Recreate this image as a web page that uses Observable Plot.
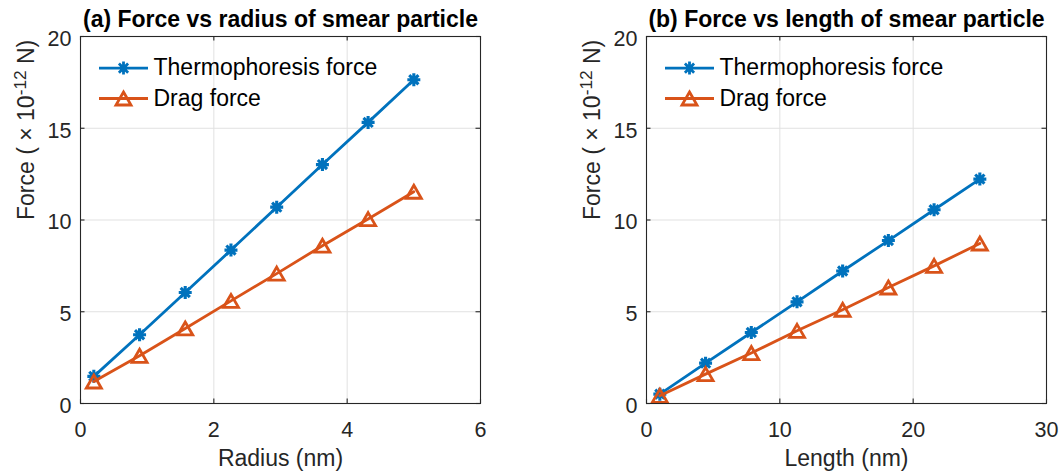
<!DOCTYPE html>
<html>
<head>
<meta charset="utf-8">
<script src="https://cdn.jsdelivr.net/npm/d3@7"></script>
<script src="https://cdn.jsdelivr.net/npm/@observablehq/plot@0.6"></script>
<style>
  html, body { margin: 0; padding: 0; background: #fff; }
  #charts { display: flex; width: 1060px; height: 474px; }
</style>
</head>
<body>
<div id="charts"></div>
<script>
// (a) force against particle radius
const radius = [0.2, 0.886, 1.571, 2.257, 2.943, 3.629, 4.314, 5.0];
const thermoByRadius = [1.48, 3.75, 6.05, 8.36, 10.7, 13.02, 15.32, 17.64];
const dragByRadius = [1.2, 2.6, 4.09, 5.59, 7.08, 8.6, 10.05, 11.54];

// (b) force against particle length
const length = [1, 4.43, 7.86, 11.29, 14.71, 18.14, 21.57, 25];
const thermoByLength = [0.51, 2.2, 3.87, 5.54, 7.22, 8.88, 10.56, 12.23];
const dragByLength = [0.42, 1.6, 2.75, 3.96, 5.11, 6.32, 7.5, 8.72];

const seriesNames = ["Thermophoresis force", "Drag force"];
const titles = ["(a) Force vs radius of smear particle", "(b) Force vs length of smear particle"];
const xLabels = ["Radius (nm)", "Length (nm)"];
const yLabelParts = ["Force ( \u00d7 10", "-12", " N)"];
const yTicks = [0, 5, 10, 15, 20];
const radiusTicks = [0, 2, 4, 6];
const lengthTicks = [0, 10, 20, 30];

const FONT = '"Liberation Sans", Arial, Helvetica, sans-serif';
const BLUE = "#0072BD";
const ORANGE = "#D95319";
const AXIS = "#262626";
const GRID = "#e1e1e1";

// eight-spoke asterisk marker
const asterisk8 = {
  draw(ctx, size) {
    const r = Math.sqrt(size / Math.PI);
    const d = r * Math.SQRT1_2;
    ctx.moveTo(-r, 0); ctx.lineTo(r, 0);
    ctx.moveTo(0, -r); ctx.lineTo(0, r);
    ctx.moveTo(-d, -d); ctx.lineTo(d, d);
    ctx.moveTo(-d, d); ctx.lineTo(d, -d);
  }
};

// upward triangle centred on its bounding box
const triangleUp = {
  draw(ctx, size) {
    const r = Math.sqrt(size / Math.PI);
    const h = r * 0.866;
    ctx.moveTo(0, -h);
    ctx.lineTo(r, h);
    ctx.lineTo(-r, h);
    ctx.closePath();
  }
};

// legend key: a short line segment with the series marker in its middle
function legendKey(marker, markerR, half) {
  return {
    draw(ctx) {
      ctx.moveTo(-half, 0);
      ctx.lineTo(half, 0);
      marker.draw(ctx, markerR * markerR * Math.PI);
    }
  };
}

function panel({title, xLabel, xDomain, xTicks, xs, thermo, drag, marginLeft, marginRight}) {
  const W = 530, H = 474, mTop = 36, mBottom = 71;
  const frameW = W - marginLeft - marginRight;
  const frameH = H - mTop - mBottom;
  const thermoRows = xs.map((x, i) => ({x, y: thermo[i]}));
  const dragRows = xs.map((x, i) => ({x, y: drag[i]}));
  const tickLen = 4.5;
  const yLabel = yLabelParts.join("");
  const lineW = 2.8;

  const svg = Plot.plot({
    width: W,
    height: H,
    marginTop: mTop,
    marginBottom: mBottom,
    marginLeft,
    marginRight,
    style: {fontFamily: FONT, background: "#fff", color: AXIS, overflow: "visible"},
    x: {domain: xDomain},
    y: {domain: [0, 20]},
    marks: [
      Plot.gridX(xTicks, {stroke: GRID, strokeOpacity: 1, strokeWidth: 1}),
      Plot.gridY(yTicks, {stroke: GRID, strokeOpacity: 1, strokeWidth: 1}),

      Plot.line(thermoRows, {x: "x", y: "y", stroke: BLUE, strokeWidth: lineW}),
      Plot.dot(thermoRows, {x: "x", y: "y", symbol: asterisk8, r: 6.5, fill: "none", stroke: BLUE, strokeWidth: 3.1}),
      Plot.line(dragRows, {x: "x", y: "y", stroke: ORANGE, strokeWidth: lineW}),
      Plot.dot(dragRows, {x: "x", y: "y", symbol: triangleUp, r: 7.5, fill: "none", stroke: ORANGE, strokeWidth: lineW, strokeLinejoin: "miter"}),

      Plot.frame({stroke: AXIS, strokeWidth: 1.1}),

      // inward tick marks on all four sides
      Plot.tickX(xTicks, {x: d => d, insetTop: frameH - tickLen, stroke: AXIS, strokeWidth: 1.1}),
      Plot.tickX(xTicks, {x: d => d, insetBottom: frameH - tickLen, stroke: AXIS, strokeWidth: 1.1}),
      Plot.tickY(yTicks, {y: d => d, insetRight: frameW - tickLen, stroke: AXIS, strokeWidth: 1.1}),
      Plot.tickY(yTicks, {y: d => d, insetLeft: frameW - tickLen, stroke: AXIS, strokeWidth: 1.1}),

      Plot.axisX({ticks: xTicks, tickFormat: d => String(d), tickSize: 0, tickPadding: 18, fontSize: 21.5, label: null, fill: AXIS}),
      Plot.axisY({ticks: yTicks, tickFormat: d => String(d), tickSize: 0, tickPadding: 9, fontSize: 21.5, dy: 2.5, label: null, fill: AXIS}),

      Plot.text([xLabel], {text: d => d, frameAnchor: "bottom", lineAnchor: "bottom", dy: 62.5, fontSize: 23, fill: AXIS}),
      Plot.text([yLabel], {text: d => d, frameAnchor: "left", lineAnchor: "middle", rotate: -90, dx: -54, fontSize: 23, fill: AXIS}),
      Plot.text([title], {text: d => d, frameAnchor: "top", lineAnchor: "bottom", dy: -10, fontSize: 23, fontWeight: "bold", fill: "#000"}),

      // legend
      Plot.dot([seriesNames[0]], {frameAnchor: "top-left", dx: 43, dy: 31.6, symbol: legendKey(asterisk8, 6.5, 24.5), r: 6.5, fill: "none", stroke: BLUE, strokeWidth: lineW}),
      Plot.dot([seriesNames[1]], {frameAnchor: "top-left", dx: 43, dy: 62, symbol: legendKey(triangleUp, 7.5, 24.5), r: 7.5, fill: "none", stroke: ORANGE, strokeWidth: lineW, strokeLinejoin: "miter"}),
      Plot.text([seriesNames[0]], {text: d => d, frameAnchor: "top-left", textAnchor: "start", lineAnchor: "middle", dx: 73, dy: 31.6, fontSize: 23, fill: "#000"}),
      Plot.text([seriesNames[1]], {text: d => d, frameAnchor: "top-left", textAnchor: "start", lineAnchor: "middle", dx: 73, dy: 62, fontSize: 23, fill: "#000"})
    ]
  });

  // typeset the exponent of the y label as a superscript
  d3.select(svg).selectAll("text")
    .filter(function () { return this.textContent === yLabel; })
    .each(function () {
      const t = d3.select(this);
      t.text(null);
      t.append("tspan").text(yLabelParts[0]);
      t.append("tspan").attr("font-size", "0.75em").attr("dy", -7.5).text(yLabelParts[1]);
      t.append("tspan").attr("dy", 7.5).text(yLabelParts[2]);
    });

  return svg;
}

const host = document.getElementById("charts");
host.appendChild(panel({
  title: titles[0], xLabel: xLabels[0], xDomain: [0, 6], xTicks: radiusTicks,
  xs: radius, thermo: thermoByRadius, drag: dragByRadius,
  marginLeft: 80, marginRight: 50
}));
host.appendChild(panel({
  title: titles[1], xLabel: xLabels[1], xDomain: [0, 30], xTicks: lengthTicks,
  xs: length, thermo: thermoByLength, drag: dragByLength,
  marginLeft: 116, marginRight: 14
}));
</script>
</body>
</html>
